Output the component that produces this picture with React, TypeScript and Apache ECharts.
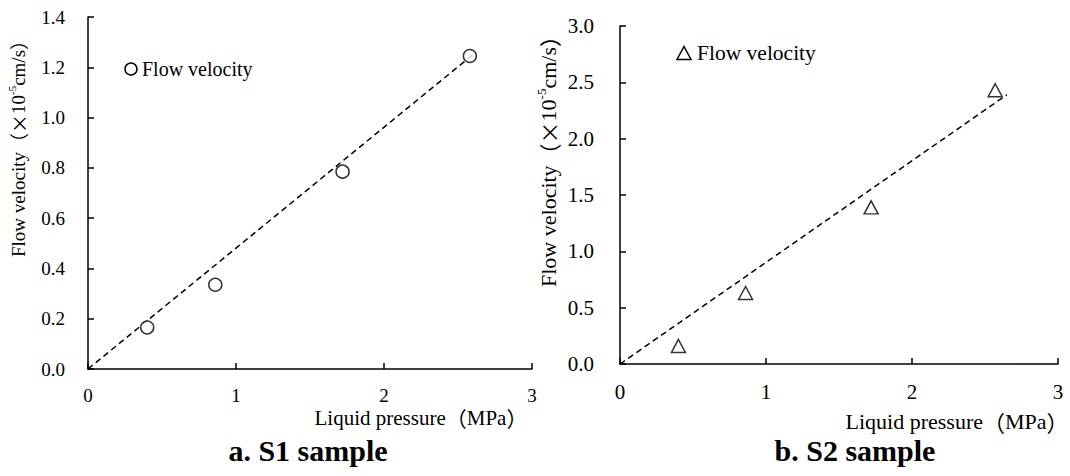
import React, { useEffect, useRef } from "react";
import * as echarts from "echarts";

// S1 sample
const s1Pressure = [0.4, 0.86, 1.72, 2.58];
const s1Velocity = [0.165, 0.335, 0.785, 1.245];
const s1TrendX = [0, 2.6];
const s1TrendY = [0, 1.25];

// S2 sample
const s2Pressure = [0.4, 0.86, 1.72, 2.57];
const s2Velocity = [0.16, 0.63, 1.39, 2.43];
const s2TrendX = [0, 2.65];
const s2TrendY = [0, 2.39];

// tick labels
const xTickValues = [0, 1, 2, 3];
const y1TickValues = [0, 0.2, 0.4, 0.6, 0.8, 1.0, 1.2, 1.4];
const y2TickValues = [0, 0.5, 1.0, 1.5, 2.0, 2.5, 3.0];

const seriesName = "Flow velocity";
const titles = ["a. S1 sample", "b. S2 sample"];

const FONT = "Times New Roman, Liberation Serif, serif";
const CJK = "Noto Sans CJK SC";

const pairs = (xs: number[], ys: number[]) => xs.map((x, i) => [x, ys[i]]);
const last = (a: number[]) => a[a.length - 1];

export default function App() {
  const ref = useRef<HTMLDivElement>(null);
  useEffect(() => {
    if (!ref.current) return;
    const chart = echarts.init(ref.current, null, { renderer: "svg" });
    const axisBase = {
      axisLine: { show: true, onZero: false, lineStyle: { color: "#000", width: 1.5 } },
      axisTick: { show: true, inside: true, length: 6, lineStyle: { color: "#000", width: 1.5 } },
      axisLabel: { show: false },
      splitLine: { show: false },
    };
    chart.setOption({
      animation: false,
      backgroundColor: "#fff",
      grid: [
        { left: 88, top: 17, width: 444, height: 352, containLabel: false },
        { left: 620, top: 26, width: 438, height: 338, containLabel: false },
      ],
      xAxis: [
        { type: "value", gridIndex: 0, min: xTickValues[0], max: last(xTickValues), interval: 1, ...axisBase },
        { type: "value", gridIndex: 1, min: xTickValues[0], max: last(xTickValues), interval: 1, ...axisBase },
      ],
      yAxis: [
        { type: "value", gridIndex: 0, min: y1TickValues[0], max: last(y1TickValues), interval: 0.2, ...axisBase },
        { type: "value", gridIndex: 1, min: y2TickValues[0], max: last(y2TickValues), interval: 0.5, ...axisBase },
      ],
      series: [
        {
          name: "S1 trend",
          type: "line",
          xAxisIndex: 0,
          yAxisIndex: 0,
          data: pairs(s1TrendX, s1TrendY),
          symbol: "none",
          lineStyle: { color: "#000", width: 1.5, type: [6, 4] },
          silent: true,
        },
        {
          name: "S1",
          type: "scatter",
          xAxisIndex: 0,
          yAxisIndex: 0,
          data: pairs(s1Pressure, s1Velocity),
          symbol: "circle",
          symbolSize: 13,
          itemStyle: { color: "#fff", borderColor: "#000", borderWidth: 1.5 },
          z: 3,
        },
        {
          name: "S2 trend",
          type: "line",
          xAxisIndex: 1,
          yAxisIndex: 1,
          data: pairs(s2TrendX, s2TrendY),
          symbol: "none",
          lineStyle: { color: "#000", width: 1.5, type: [6, 4] },
          silent: true,
        },
        {
          name: "S2",
          type: "scatter",
          xAxisIndex: 1,
          yAxisIndex: 1,
          data: pairs(s2Pressure, s2Velocity),
          symbol: "triangle",
          symbolSize: [14, 13],
          itemStyle: { color: "#fff", borderColor: "#000", borderWidth: 1.5 },
          z: 3,
        },
      ],
    });

    const px = (g: number, v: [number, number]) =>
      chart.convertToPixel({ xAxisIndex: g, yAxisIndex: g } as any, v) as number[];

    const txt = (x: number, y: number, text: string, fs: number, align: string, weight = "normal") => ({
      type: "text",
      x,
      y,
      style: {
        text: `{n|${text}}`,
        align,
        verticalAlign: "middle",
        rich: { n: { fontSize: fs, fontFamily: FONT, fontWeight: weight, fill: "#000" } },
      },
    });

    const xLabels = (g: number, yMin: number, fs: number, off: number) =>
      xTickValues.map((v) => {
        const [x, y] = px(g, [v, yMin]);
        return txt(x, y + off, String(v), fs, "center");
      });
    const yLabels = (g: number, vals: number[], fs: number, off: number) =>
      vals.map((v) => {
        const [x, y] = px(g, [0, v]);
        return txt(x - off, y, v.toFixed(1), fs, "right");
      });

    const yName = (x: number, y: number, fs: number) => ({
      type: "text",
      x,
      y,
      rotation: Math.PI / 2,
      style: {
        text: `{n|Flow velocity}{c|（×}{n|10}{s|-5}{n|cm/s}{c|）}`,
        align: "center",
        verticalAlign: "middle",
        rich: {
          n: { fontSize: fs, fontFamily: FONT, fill: "#000", lineHeight: fs * 1.2 },
          c: { fontSize: fs, fontFamily: CJK, fill: "#000", lineHeight: fs * 1.2 },
          s: { fontSize: Math.round(fs * 0.6), fontFamily: FONT, fill: "#000", verticalAlign: "top", lineHeight: fs * 1.2 },
        },
      },
    });
    const xName = (x: number, y: number, fs: number) => ({
      type: "text",
      x,
      y,
      style: {
        text: `{n|Liquid pressure}{c|（}{n|MPa}{c|）}`,
        align: "center",
        verticalAlign: "middle",
        rich: {
          n: { fontSize: fs, fontFamily: FONT, fill: "#000" },
          c: { fontSize: fs, fontFamily: CJK, fill: "#000" },
        },
      },
    });

    const markerStyle = { fill: "#fff", stroke: "#000", lineWidth: 1.5 };

    chart.setOption({
      graphic: [
        ...xLabels(0, y1TickValues[0], 19, 26),
        ...xLabels(1, y2TickValues[0], 21, 28),
        ...yLabels(0, y1TickValues, 19, 23),
        ...yLabels(1, y2TickValues, 21, 26),
        yName(18, 144, 19),
        yName(548, 156, 22),
        xName(421, 418, 21),
        xName(957, 421, 22),
        // legends
        { type: "circle", shape: { cx: 131, cy: 69, r: 6 }, style: markerStyle },
        txt(142, 69, seriesName, 20, "left"),
        { type: "polygon", shape: { points: [[677, 59.5], [691, 59.5], [684, 46.5]] }, style: markerStyle },
        txt(697, 53, seriesName, 21.5, "left"),
        // panel titles
        txt(308, 450, titles[0], 30, "center", "bold"),
        txt(855, 450, titles[1], 30, "center", "bold"),
      ],
    });
    return () => chart.dispose();
  }, []);
  return <div ref={ref} style={{ position: "fixed", left: 0, top: 0, width: 1070, height: 476 }} />;
}
